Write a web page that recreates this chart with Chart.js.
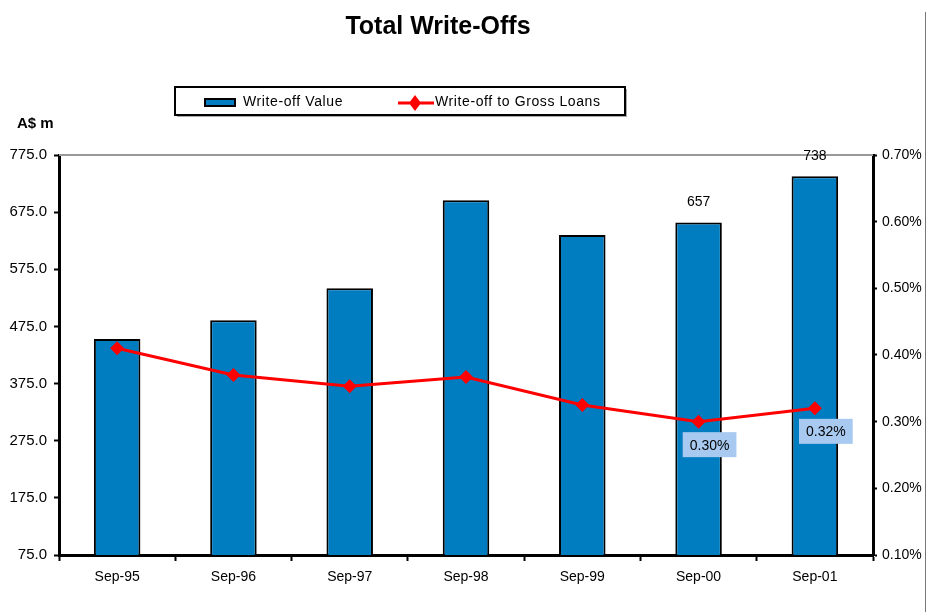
<!DOCTYPE html>
<html>
<head>
<meta charset="utf-8">
<title>Total Write-Offs</title>
<script src="https://cdn.jsdelivr.net/npm/chart.js@4/dist/chart.umd.min.js"></script>
<style>
  html, body { margin: 0; padding: 0; background: #fff; }
  #wrap { width: 928px; height: 612px; position: relative; }
</style>
</head>
<body>
<div id="wrap"><canvas id="myChart" width="928" height="612"></canvas></div>
<script>
// data
const categories = ['Sep-95', 'Sep-96', 'Sep-97', 'Sep-98', 'Sep-99', 'Sep-00', 'Sep-01'];
const writeOffValue = [453, 486, 542, 696, 635, 657, 738];
const writeOffToLoans = [0.41, 0.37, 0.353, 0.367, 0.325, 0.30, 0.32];
const leftTicks = [75, 175, 275, 375, 475, 575, 675, 775];
const rightTicks = [0.1, 0.2, 0.3, 0.4, 0.5, 0.6, 0.7];
const barLabelIdx = [5, 6];
const lineLabelIdx = [5, 6];

const FONT = 'Liberation Sans, Arial, sans-serif';
const BAR_BLUE = '#007DC1';

// title, legend box, axis caption, frame and value labels
const decorations = {
  id: 'decorations',
  afterDraw(chart) {
    const ctx = chart.ctx;
    const area = chart.chartArea;
    ctx.save();

    // title
    ctx.fillStyle = '#000';
    ctx.font = 'bold 25px ' + FONT;
    ctx.textAlign = 'center';
    ctx.textBaseline = 'middle';
    ctx.fillText('Total Write-Offs', 438, 27);

    // right frame line
    ctx.strokeStyle = '#777';
    ctx.lineWidth = 1;
    ctx.beginPath();
    ctx.moveTo(925.5, 12);
    ctx.lineTo(925.5, 612);
    ctx.stroke();

    // top gray line of the plot area
    ctx.strokeStyle = '#999';
    ctx.lineWidth = 2;
    ctx.beginPath();
    ctx.moveTo(area.left, area.top);
    ctx.lineTo(area.right, area.top);
    ctx.stroke();

    // axis caption
    ctx.fillStyle = '#000';
    ctx.font = 'bold 15px ' + FONT;
    ctx.textAlign = 'left';
    ctx.fillText('A$ m', 17, 124);

    // legend box
    ctx.fillStyle = '#aaa';
    ctx.fillRect(177, 89, 450, 28);
    ctx.fillStyle = '#fff';
    ctx.fillRect(175, 87, 450, 28);
    ctx.strokeStyle = '#000';
    ctx.lineWidth = 2;
    ctx.strokeRect(175, 87, 450, 28);

    ctx.fillStyle = BAR_BLUE;
    ctx.fillRect(205, 99, 30, 7);
    ctx.strokeStyle = '#000';
    ctx.lineWidth = 2;
    ctx.strokeRect(205, 99, 30, 7);

    ctx.strokeStyle = '#f00';
    ctx.lineWidth = 3;
    ctx.beginPath();
    ctx.moveTo(398, 103);
    ctx.lineTo(434, 103);
    ctx.stroke();
    ctx.fillStyle = '#f00';
    ctx.beginPath();
    ctx.moveTo(415, 95);
    ctx.lineTo(421, 103);
    ctx.lineTo(415, 111);
    ctx.lineTo(409, 103);
    ctx.closePath();
    ctx.fill();

    ctx.fillStyle = '#000';
    ctx.font = '14px ' + FONT;
    ctx.letterSpacing = '0.6px';
    ctx.textAlign = 'left';
    ctx.fillText('Write-off Value', 243, 102);
    ctx.fillText('Write-off to Gross Loans', 435, 102);
    ctx.letterSpacing = '0px';

    // value labels on the bars
    const barMeta = chart.getDatasetMeta(0);
    ctx.font = '14px ' + FONT;
    ctx.textAlign = 'center';
    ctx.textBaseline = 'bottom';
    barLabelIdx.forEach(i => {
      const el = barMeta.data[i];
      ctx.fillText(String(writeOffValue[i]), el.x, el.y - 13);
    });

    // ratio labels under the line points
    const lineMeta = chart.getDatasetMeta(1);
    ctx.textBaseline = 'middle';
    lineLabelIdx.forEach(i => {
      const el = lineMeta.data[i];
      const txt = writeOffToLoans[i].toFixed(2) + '%';
      const w = ctx.measureText(txt).width + 14;
      const cx = el.x + 11, cy = el.y + 23;
      ctx.fillStyle = '#A8CAF0';
      ctx.fillRect(cx - w / 2, cy - 12.5, w, 25);
      ctx.fillStyle = '#000';
      ctx.fillText(txt, cx, cy + 1);
    });

    ctx.restore();
  }
};

const ctx = document.getElementById('myChart').getContext('2d');
const myChart = new Chart(ctx, {
  type: 'bar',
  data: {
    labels: categories,
    datasets: [
      {
        type: 'bar',
        label: 'Write-off Value',
        data: writeOffValue,
        backgroundColor: BAR_BLUE,
        borderColor: '#000',
        borderWidth: 2,
        borderSkipped: 'bottom',
        categoryPercentage: 1,
        barPercentage: 0.4,
        yAxisID: 'y',
        order: 2
      },
      {
        type: 'line',
        label: 'Write-off to Gross Loans',
        data: writeOffToLoans,
        borderColor: '#f00',
        backgroundColor: '#f00',
        borderWidth: 3,
        pointStyle: 'rectRot',
        pointRadius: 7,
        pointHoverRadius: 7,
        pointBorderWidth: 0,
        tension: 0,
        yAxisID: 'y1',
        order: 1
      }
    ]
  },
  options: {
    responsive: false,
    animation: false,
    layout: { padding: { top: 155, left: 0, right: 0, bottom: 0 } },
    plugins: {
      legend: { display: false },
      title: { display: false },
      tooltip: { enabled: false }
    },
    scales: {
      x: {
        offset: true,
        grid: {
          offset: true,
          drawOnChartArea: false,
          tickLength: 6,
          tickColor: '#000',
          tickWidth: 2
        },
        border: { color: '#000', width: 3 },
        ticks: { color: '#000', font: { family: FONT, size: 14 }, padding: 8, maxRotation: 0 },
        afterFit(scale) { scale.height = 57; }
      },
      y: {
        position: 'left',
        min: 75,
        max: 775,
        afterBuildTicks(scale) { scale.ticks = leftTicks.map(v => ({ value: v })); },
        grid: { drawOnChartArea: false, tickLength: 5, tickColor: '#000', tickWidth: 2 },
        border: { color: '#000', width: 3 },
        ticks: {
          color: '#000',
          font: { family: FONT, size: 15 },
          padding: 7,
          callback: v => v.toFixed(1)
        },
        afterFit(scale) { scale.width = 59; }
      },
      y1: {
        position: 'right',
        min: 0.1,
        max: 0.7,
        afterBuildTicks(scale) { scale.ticks = rightTicks.map(v => ({ value: v })); },
        grid: { drawOnChartArea: false, tickLength: 4, tickColor: '#000', tickWidth: 2 },
        border: { color: '#000', width: 3 },
        ticks: {
          color: '#000',
          font: { family: FONT, size: 14 },
          padding: 5,
          callback: v => v.toFixed(2) + '%'
        },
        afterFit(scale) { scale.width = 55; }
      }
    }
  },
  plugins: [decorations]
});
</script>
</body>
</html>
